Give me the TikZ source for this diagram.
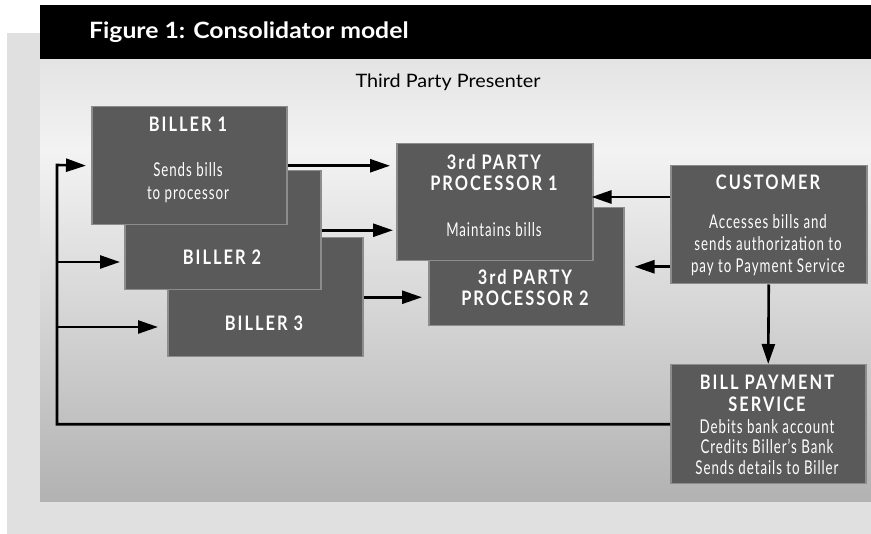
\documentclass[tikz,border=0pt]{standalone}
\usepackage{fontspec}
\setmainfont{Lato}
\newfontfamily\hdrfont[FakeStretch=1.1]{Lato}
\newfontfamily\subfont[FakeStretch=1.07]{Lato}
\newfontfamily\ttlfont[FakeStretch=0.82,LetterSpace=10]{Lato}
\newfontfamily\bodyfont[FakeStretch=0.7,LetterSpace=5]{Lato}
\usetikzlibrary{arrows.meta}
\definecolor{boxfill}{HTML}{5A5A5A}
\definecolor{boxedge}{HTML}{8C8C8C}
\definecolor{outerbg}{HTML}{E0E0E0}
\definecolor{panelA}{HTML}{E4E4E4}
\definecolor{panelB}{HTML}{F3F3F3}
\definecolor{panelC}{HTML}{B2B2B2}
\tikzset{
  box/.style={draw=boxedge, line width=1.5pt, fill=boxfill, inner sep=0pt, anchor=north west},
  ttl/.style={text=white, align=center, inner sep=0pt, font=\ttlfont\bfseries\fontsize{20}{21}\selectfont},
  body/.style={text=white, align=center, inner sep=0pt, font=\bodyfont\fontsize{19}{22.5}\selectfont},
  arr/.style={line width=2.6pt, -{Triangle[length=20pt,width=13pt]}},
}
\begin{document}
\begin{tikzpicture}[x=1pt,y=-1pt]
\useasboundingbox (0,0) rectangle (871,534);
% backgrounds
\fill[outerbg] (7,33) rectangle (871,534);
\fill[black] (40,5) rectangle (871,60);
\shade[top color=panelA, bottom color=panelB] (40,60) rectangle (871,150);
\shade[top color=panelB, bottom color=panelC] (40,150) rectangle (871,502);
\node[text=white, anchor=west, inner sep=0pt, font=\hdrfont\bfseries\fontsize{22.5}{26}\selectfont] (hd) at (89,32) {Figure 1: Consolidator model};
\node[inner sep=0pt, font=\subfont\fontsize{18.5}{22}\selectfont] (tpp) at (448,82) {Third Party Presenter};
% boxes
\node[box, minimum width=195pt, minimum height=119pt] (b3) at (167,237) {};
\node[box, minimum width=196pt, minimum height=119pt] (b2) at (124,170) {};
\node[box, minimum width=195pt, minimum height=118pt] (b1) at (91,106) {};
\node[box, minimum width=195pt, minimum height=118pt] (p2) at (428,207) {};
\node[box, minimum width=196pt, minimum height=117pt] (p1) at (396,143) {};
\node[box, minimum width=196pt, minimum height=118pt] (cu) at (670,165) {};
\node[box, minimum width=195pt, minimum height=119pt] (bp) at (670,364) {};
% texts
\node[ttl] (b1t) at (188,124) {BILLER 1};
\node[body] (b1b) at (188,182.5) {Sends bills\\to processor};
\node[ttl] (b2t) at (222,257) {BILLER 2};
\node[ttl] (b3t) at (264,323) {BILLER 3};
\node[ttl] (p1t) at (494,172.5) {3rd PARTY\\PROCESSOR 1};
\node[body] (p1b) at (494,230) {Maintains bills};
\node[ttl] (p2t) at (525,287.5) {3rd PARTY\\PROCESSOR 2};
\node[ttl] (cut) at (768,182) {CUSTOMER};
\node[body, font=\bodyfont\fontsize{19}{22}\selectfont] (cub) at (768,245) {Accesses bills and\\sends authorization to\\pay to Payment Service};
\node[ttl, font=\ttlfont\bfseries\fontsize{20}{22}\selectfont] (bpt) at (767,393) {BILL PAYMENT\\SERVICE};
\node[body, font=\bodyfont\fontsize{19}{20.5}\selectfont] (bpb) at (767,447) {Debits bank account\\Credits Biller’s Bank\\Sends details to Biller};
% coordinates
\coordinate (l1) at (57,165);
\coordinate (l2) at (57,262);
\coordinate (l3) at (57,327);
\coordinate (c1) at (670,197);
% connectors
\draw[arr, shorten >=6pt] (b1.east) -- (b1.east -| p1.west);
\draw[arr, shorten >=3pt] (b2.east) -- (b2.east -| p1.west);
\draw[arr, shorten >=6pt] (b3.east) -- (b3.east -| p2.west);
\draw[arr, shorten >=-2pt] (c1) -- (c1 -| p1.east);
\draw[arr, shorten >=10pt] (p2.east -| cu.west) -- (p2.east);
\draw[arr, shorten >=0pt] (cu.south) -- (bp.north);
\draw[arr, shorten >=5pt] (bp.west) -| (l1) -- (b1.west);
\draw[arr, shorten >=4pt] (l2) -- (l2 -| b2.west);
\draw[arr, shorten >=9pt] (l3) -- (l3 -| b3.west);
\end{tikzpicture}
\end{document}
